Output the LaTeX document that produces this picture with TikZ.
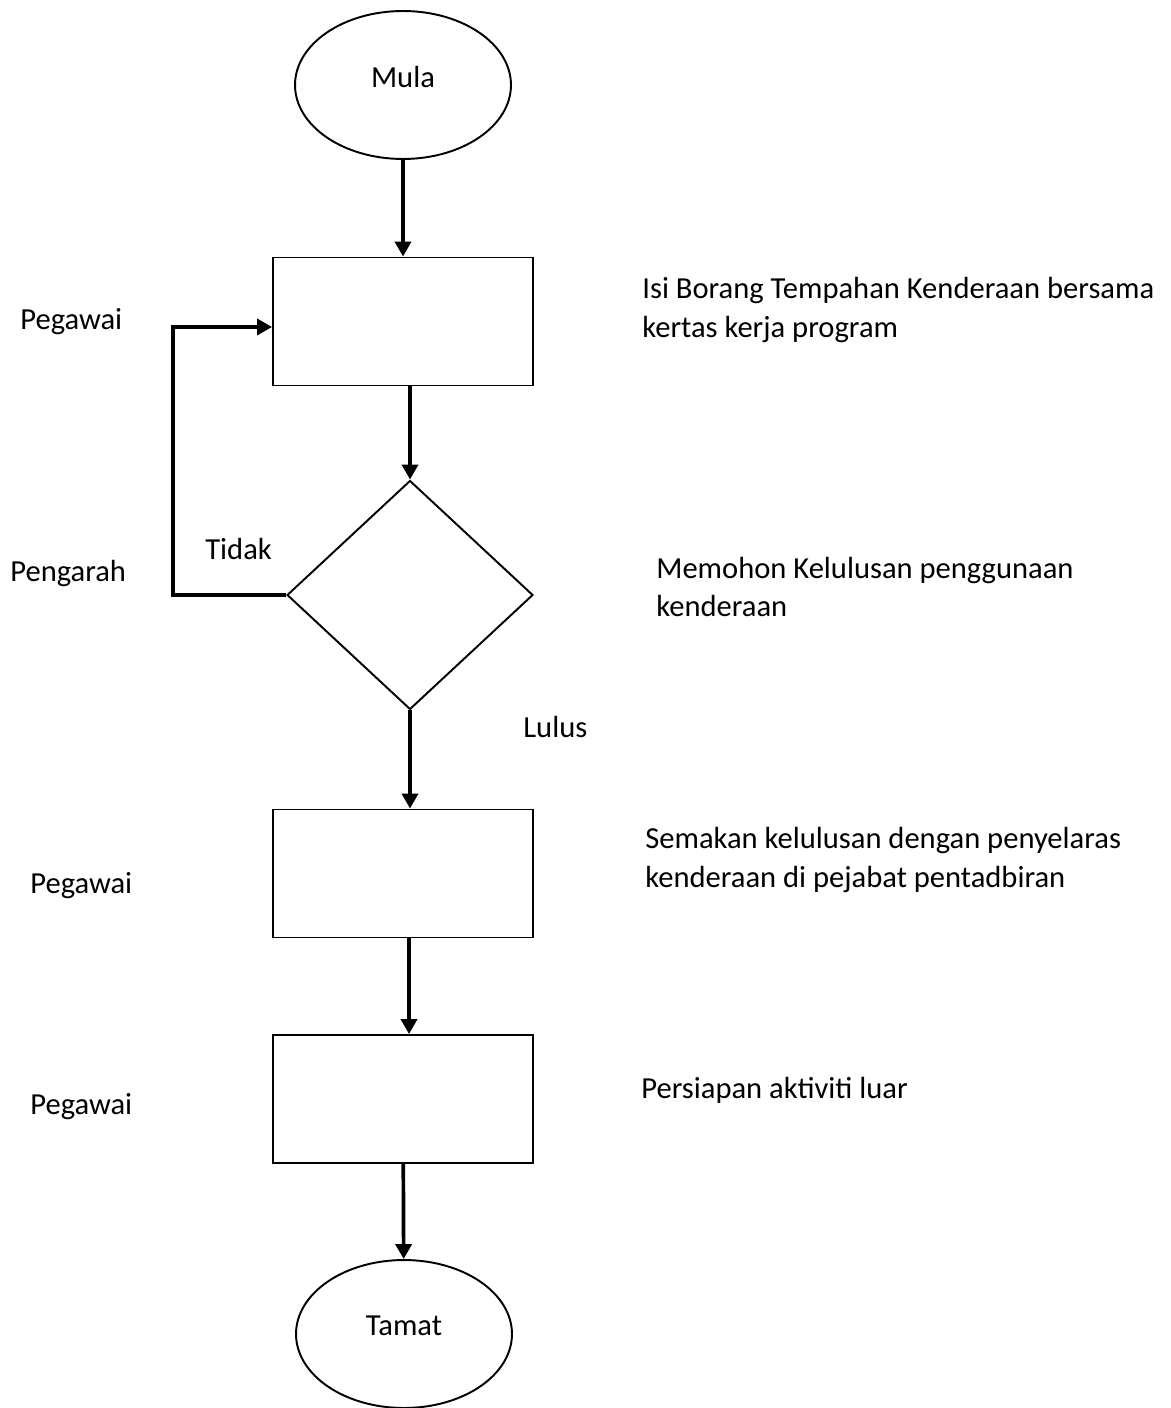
\documentclass[tikz,border=0pt]{standalone}
\usepackage{fontspec}
\setmainfont{Carlito}
\usetikzlibrary{shapes.geometric,arrows.meta,positioning}

\begin{document}
\begin{tikzpicture}[x=0.02cm,y=-0.02cm,
    font=\fontsize{17.4}{22}\selectfont,
    terminal/.style={draw,ellipse,line width=1.1pt,minimum width=4.32cm,minimum height=2.96cm,inner sep=0pt,text depth=0.32cm},
    procbox/.style={draw,rectangle,line width=1.1pt,minimum width=5.2cm,minimum height=2.56cm,inner sep=0pt},
    decision/.style={draw,diamond,line width=1.1pt,minimum width=4.92cm,minimum height=4.58cm,inner sep=0pt},
    flow/.style={line width=2.1pt,-{Triangle[length=0.3cm,width=0.32cm]}},
    note/.style={anchor=west,align=left,inner sep=0pt}]
  \useasboundingbox (0,0) rectangle (1170,1408);

  % the chart
  \node[terminal] (mula) at (403,85) {Mula};
  \node[procbox] (isi) at (403,321.5) {};
  \node[decision] (mohon) at (410,595) {};
  \node[procbox] (semak) at (403,873.5) {};
  \node[procbox] (siap) at (403,1099) {};
  \node[terminal] (tamat) at (404,1334) {Tamat};

  % who does it
  \node[note] (peg1) at (20,322) {Pegawai};
  \node[note] (pengarah) at (10,574) {Pengarah};
  \node[note] (peg2) at (30,886) {Pegawai};
  \node[note] (peg3) at (30,1107) {Pegawai};

  % what is done
  \node[note] (tisi) at (642,310) {Isi Borang Tempahan Kenderaan bersama\\kertas kerja program};
  \node[note] (tmohon) at (656,587) {Memohon Kelulusan penggunaan\\kenderaan};
  \node[note] (tsemak) at (645,860) {Semakan kelulusan dengan penyelaras\\kenderaan di pejabat pentadbiran};
  \node[note] (tsiap) at (641,1090) {Persiapan aktiviti luar};

  \node[note] (tidak) at (205,549) {Tidak};
  \node[note] (lulus) at (523,727) {Lulus};

  \coordinate (balik) at (173,595);

  \draw[flow] (mula) -- (isi);
  \draw[flow] (isi.south -| mohon.north) -- (mohon.north);
  \draw[flow] (mohon.west) -- (balik) |- ([yshift=-0.11cm]isi.west);
  \draw[flow] (mohon.south) -- (mohon.south |- semak.north);
  \draw[flow] ([xshift=0.12cm]semak.south) -- ([xshift=0.12cm]siap.north);
  \draw[flow] (siap) -- (tamat);
\end{tikzpicture}
\end{document}
